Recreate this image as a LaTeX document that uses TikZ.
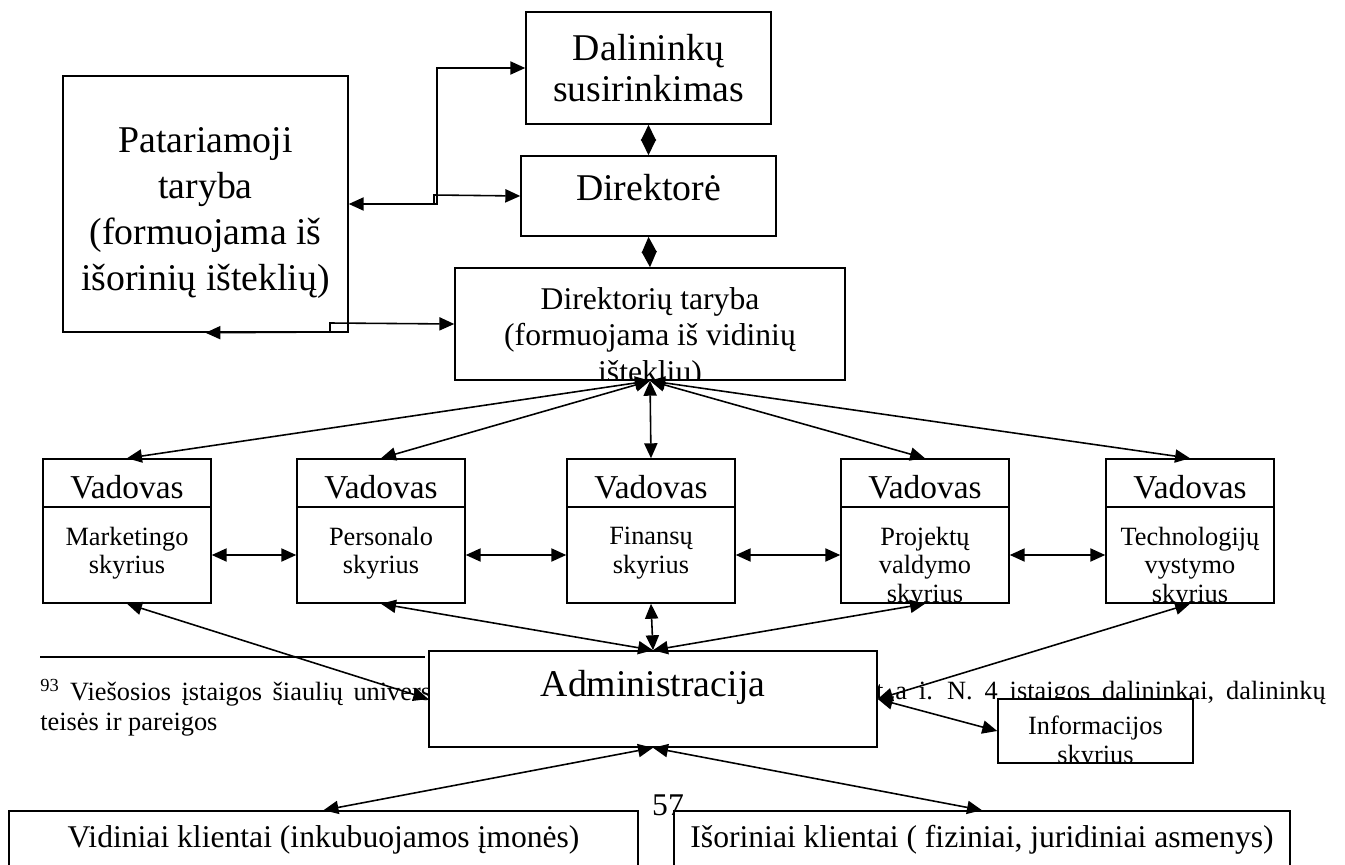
\documentclass[tikz,border=0pt]{standalone}
\usepackage{fontspec}
\setmainfont{Liberation Serif}
\usetikzlibrary{arrows.meta, calc}
\newcommand\widespace[1][6pt]{\spaceskip=#1\relax}

\begin{document}
\begin{tikzpicture}[
  x=0.02cm, y=-0.02cm,
  big/.style={font=\fontsize{21.5}{23.5}\selectfont},
  tall/.style={font=\fontsize{21.5}{26}\selectfont},
  mid/.style={font=\fontsize{18}{20.8}\selectfont},
  sml/.style={font=\fontsize{15}{16.2}\selectfont},
  note/.style={font=\fontsize{15}{18}\selectfont, inner sep=0pt},
  box/.style={draw, line width=0.9pt, fill=white, inner sep=0pt, align=center},
  dbl/.style={{Triangle[length=8.5pt, width=7.5pt]}-{Triangle[length=8.5pt, width=7.5pt]}, line width=0.9pt},
  one/.style={-{Triangle[length=8.5pt, width=7.5pt]}, line width=0.9pt},
  dia/.style={{Triangle[length=9pt, width=8.5pt]}-{Triangle[length=9pt, width=8.5pt]}, line width=0.9pt},
]
  \clip (0,0) rectangle (1345,865);

  % --- footnote behind the boxes ---
  \draw[line width=0.8pt] (40,657) -- (425,657);
  \node[note, anchor=west] (fnA) at (40,693) {\widespace\textsuperscript{93} Viešosios įstaigos šiaulių univers};
  \node[note, anchor=east] (fnB) at (1326,693) {\widespace[6.8pt]at a i. N. 4 įstaigos dalininkai, dalininkų};
  \node[note, anchor=west] (fnC) at (40,725) {teisės ir pareigos};

  % --- top ---
  \node[box, big, minimum width=4.9cm, minimum height=2.24cm] (dal) at (648.5,68) {Dalininkų\\susirinkimas};
  \node[box, minimum width=5.1cm, minimum height=1.6cm] (dir) at (648.5,196) {};
  \node[big] (dirtxt) at (648.5,188) {Direktorė};
  \node[box, minimum width=5.7cm, minimum height=5.12cm] (pat) at (205.5,204) {};
  \node[tall, align=center] (pattxt) at (205.5,213)
    {Patariamoji\\taryba\\(formuojama iš\\išorinių išteklių)};
  \node[box, minimum width=7.8cm, minimum height=2.24cm] (dirt) at (650,324) {};
  \begin{scope}
    \clip (dirt.south west) rectangle (dirt.north east);
    \node[mid, align=center, anchor=north] (dirttxt) at (650,281)
      {Direktorių taryba\\(formuojama iš vidinių\\ištekliu)};
  \end{scope}

  \draw[dia] (dal.south) -- (dir.north);
  \draw[dia] (dir.south) -- (dirt.north);

  % --- links of the advisory board ---
  \draw[dbl] (pat.east) -- (437,204) |- (dal.west);
  \draw[one] (434,204) -- (434,195) -- (dir.west);
  \draw[dbl] (pat.south) -- (330,332) -- (330,323) -- (dirt.west);

  % --- departments ---
  \foreach \n/\xc/\txt in {mkt/127/{Marketingo\\skyrius}, pers/381/{Personalo\\skyrius},
      fin/651/{Finansų\\skyrius}, proj/925/{Projektų\\valdymo\\skyrius},
      tech/1190/{Technologijų\\vystymo\\skyrius}}{
    \node[box, minimum width=3.36cm, minimum height=2.88cm] (\n) at (\xc,531) {};
    \draw[line width=0.9pt] (\n.west |- 0,507) -- (\n.east |- 0,507);
    \node[font=\fontsize{19}{21}\selectfont] (\n head) at (\xc,487) {Vadovas};
    \begin{scope}
      \clip (\n.south west) rectangle (\n.north east);
      \node[sml, align=center, anchor=north] (\n txt) at (\xc,521) {\txt};
    \end{scope}
    \draw[dbl] (dirt.south) -- (\n.north);
  }
  \foreach \a/\b in {mkt/pers, pers/fin, fin/proj, proj/tech}
    \draw[dbl] (\a.east |- 0,555) -- (\b.west |- 0,555);

  % --- administration ---
  \node[box, minimum width=8.96cm, minimum height=1.92cm] (adm) at (653,699) {};
  \node[big] (admtxt) at (653,687) {Administracija};
  \node[box, minimum width=3.9cm, minimum height=1.28cm] (info) at (1095.5,731) {};
  \begin{scope}
    \clip (info.south west) rectangle (info.north east);
    \node[sml, align=center, anchor=north] (infotxt) at (1095.5,710) {Informacijos\\skyrius};
  \end{scope}

  \draw[dbl] (mkt.south) -- (adm.west);
  \foreach \n in {pers, fin, proj} \draw[dbl] (\n.south) -- (adm.north);
  \draw[dbl] (tech.south) -- (adm.east);
  \draw[dbl] (adm.east) -- (info.west);

  % --- clients ---
  \node[box, minimum width=12.58cm, minimum height=1.6cm] (vid) at (323.5,851) {};
  \node[mid] (vidtxt) at (323.5,840) {Vidiniai klientai (inkubuojamos įmonės)};
  \node[box, minimum width=12.32cm, minimum height=1.6cm] (isor) at (982,851) {};
  \node[mid] (isortxt) at (982,840) {Išoriniai klientai ( fiziniai, juridiniai asmenys)};
  \draw[dbl] (adm.south) -- (vid.north);
  \draw[dbl] (adm.south) -- (isor.north);

  \node[mid] (page) at (668,805) {57};
\end{tikzpicture}
\end{document}
